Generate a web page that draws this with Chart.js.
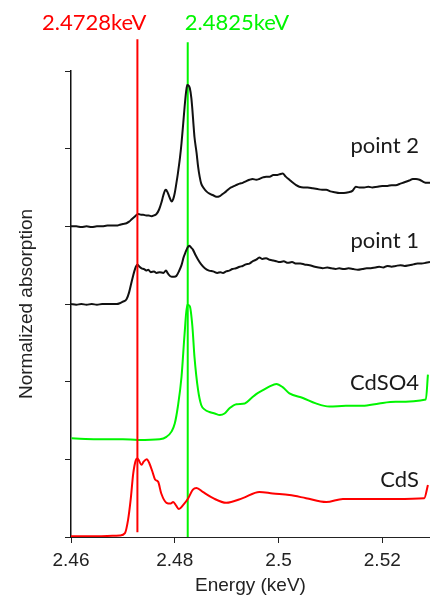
<!DOCTYPE html>
<html>
<head>
<meta charset="utf-8">
<script src="https://cdn.jsdelivr.net/npm/chart.js@4/dist/chart.umd.min.js"></script>
<style>
  body { margin: 0; background: #fff; }
  canvas { display: block; }
</style>
</head>
<body>
<canvas id="xanes" width="430" height="598"></canvas>
<script>
// axis
const energyTicks = [2.46, 2.48, 2.5, 2.52];
const tickLabels = ['2.46', '2.48', '2.5', '2.52'];

// reference edges (keV) and how far up / down the marker lines go
const markerNames = ['2.4728keV', '2.4825keV'];
const markerEnergy = [2.4728, 2.4825];
const markerTop = [6.41, 6.37];
const markerBottom = [0.06, 0];

// series names
const seriesNames = ['point 2', 'point 1', 'CdSO4', 'CdS'];

// point 2 (offset by 4)
const p2Energy = [2.4600, 2.4610, 2.4620, 2.4630, 2.4640, 2.4650, 2.4660, 2.4670, 2.4680, 2.4688,
  2.4694, 2.4700, 2.4707, 2.4712, 2.4717, 2.4722, 2.4727, 2.4730, 2.4735, 2.4739,
  2.4745, 2.4750, 2.4755, 2.4760, 2.4765, 2.4770, 2.4774, 2.4778, 2.4781, 2.4783,
  2.4786, 2.4789, 2.4792, 2.4794, 2.4797, 2.4800, 2.4803, 2.4806, 2.4810, 2.4813,
  2.4816, 2.4819, 2.4822, 2.4824, 2.4827, 2.4829, 2.4832, 2.4834, 2.4836, 2.4838,
  2.4842, 2.4845, 2.4848, 2.4851, 2.4856, 2.4861, 2.4867, 2.4874, 2.4880, 2.4887,
  2.4893, 2.4899, 2.4906, 2.4912, 2.4918, 2.4925, 2.4931, 2.4937, 2.4944, 2.4950,
  2.4957, 2.4963, 2.4970, 2.4976, 2.4983, 2.4990, 2.4996, 2.5002, 2.5008, 2.5014,
  2.5021, 2.5028, 2.5034, 2.5040, 2.5048, 2.5056, 2.5066, 2.5075, 2.5084, 2.5092,
  2.5100, 2.5108, 2.5117, 2.5126, 2.5135, 2.5143, 2.5149, 2.5156, 2.5165, 2.5173,
  2.5181, 2.5190, 2.5200, 2.5210, 2.5218, 2.5226, 2.5235, 2.5244, 2.5252, 2.5259,
  2.5265, 2.5272, 2.5280, 2.5286, 2.5292];
const p2Abs = [4.00, 4.00, 3.99, 4.00, 3.99, 4.00, 4.00, 4.01, 4.01, 4.01,
  4.02, 4.03, 4.04, 4.06, 4.09, 4.12, 4.15, 4.16, 4.15, 4.15,
  4.14, 4.14, 4.13, 4.14, 4.16, 4.22, 4.30, 4.40, 4.46, 4.47,
  4.44, 4.39, 4.34, 4.32, 4.35, 4.43, 4.55, 4.68, 4.88, 5.07,
  5.30, 5.54, 5.74, 5.82, 5.81, 5.78, 5.65, 5.50, 5.32, 5.15,
  4.95, 4.77, 4.64, 4.55, 4.49, 4.45, 4.42, 4.40, 4.38, 4.39,
  4.42, 4.45, 4.49, 4.51, 4.53, 4.55, 4.56, 4.58, 4.60, 4.61,
  4.60, 4.61, 4.63, 4.64, 4.64, 4.66, 4.66, 4.67, 4.68, 4.64,
  4.60, 4.56, 4.53, 4.51, 4.50, 4.50, 4.49, 4.48, 4.47, 4.47,
  4.45, 4.44, 4.43, 4.43, 4.44, 4.46, 4.51, 4.50, 4.50, 4.51,
  4.50, 4.51, 4.52, 4.52, 4.53, 4.53, 4.55, 4.57, 4.59, 4.61,
  4.61, 4.60, 4.57, 4.56, 4.56];

// point 1 (offset by 3)
const p1Energy = [2.4600, 2.4610, 2.4620, 2.4630, 2.4640, 2.4650, 2.4660, 2.4670, 2.4680, 2.4688,
  2.4694, 2.4700, 2.4707, 2.4712, 2.4717, 2.4722, 2.4725, 2.4728, 2.4732, 2.4736,
  2.4741, 2.4745, 2.4749, 2.4754, 2.4760, 2.4765, 2.4771, 2.4778, 2.4783, 2.4787,
  2.4794, 2.4799, 2.4803, 2.4808, 2.4813, 2.4817, 2.4821, 2.4825, 2.4828, 2.4831,
  2.4835, 2.4840, 2.4845, 2.4851, 2.4858, 2.4866, 2.4874, 2.4882, 2.4888, 2.4893,
  2.4899, 2.4905, 2.4911, 2.4918, 2.4925, 2.4931, 2.4937, 2.4944, 2.4950, 2.4957,
  2.4963, 2.4969, 2.4976, 2.4983, 2.4990, 2.4996, 2.5002, 2.5010, 2.5018, 2.5026,
  2.5034, 2.5042, 2.5050, 2.5060, 2.5070, 2.5078, 2.5085, 2.5094, 2.5102, 2.5110,
  2.5117, 2.5126, 2.5135, 2.5144, 2.5153, 2.5162, 2.5170, 2.5178, 2.5186, 2.5194,
  2.5202, 2.5210, 2.5218, 2.5226, 2.5235, 2.5243, 2.5252, 2.5260, 2.5268, 2.5276,
  2.5284, 2.5292];
const p1Abs = [3.00, 2.99, 3.00, 2.99, 3.00, 2.99, 3.00, 3.00, 3.00, 3.00,
  3.01, 3.03, 3.06, 3.15, 3.29, 3.42, 3.48, 3.51, 3.48, 3.46,
  3.45, 3.43, 3.44, 3.41, 3.42, 3.40, 3.41, 3.40, 3.43, 3.39,
  3.35, 3.35, 3.36, 3.42, 3.50, 3.60, 3.67, 3.73, 3.75, 3.73,
  3.70, 3.63, 3.57, 3.51, 3.46, 3.43, 3.42, 3.40, 3.41, 3.40,
  3.42, 3.43, 3.45, 3.46, 3.48, 3.49, 3.51, 3.52, 3.55, 3.57,
  3.60, 3.58, 3.59, 3.57, 3.56, 3.55, 3.54, 3.55, 3.53, 3.54,
  3.52, 3.52, 3.51, 3.50, 3.48, 3.47, 3.46, 3.47, 3.46, 3.45,
  3.46, 3.45, 3.46, 3.45, 3.44, 3.45, 3.46, 3.46, 3.47, 3.48,
  3.47, 3.49, 3.48, 3.49, 3.50, 3.49, 3.50, 3.51, 3.52, 3.52,
  3.53, 3.54];

// CdSO4 reference (offset by ~1.25)
const so4Energy = [2.4601, 2.4650, 2.4700, 2.4729, 2.4771, 2.4784, 2.4794, 2.4800, 2.4806, 2.4813,
  2.4819, 2.4824, 2.4829, 2.4834, 2.4838, 2.4845, 2.4851, 2.4858, 2.4867, 2.4877,
  2.4887, 2.4896, 2.4906, 2.4919, 2.4935, 2.4948, 2.4957, 2.4970, 2.4983, 2.4996,
  2.5008, 2.5021, 2.5047, 2.5072, 2.5098, 2.5130, 2.5162, 2.5194, 2.5226, 2.5284,
  2.5288];
const so4Abs = [1.27, 1.26, 1.26, 1.25, 1.26, 1.29, 1.36, 1.46, 1.68, 2.06,
  2.62, 2.99, 2.97, 2.71, 2.32, 1.89, 1.70, 1.64, 1.61, 1.59,
  1.57, 1.59, 1.66, 1.71, 1.72, 1.79, 1.84, 1.89, 1.94, 1.97,
  1.93, 1.85, 1.79, 1.72, 1.68, 1.69, 1.69, 1.72, 1.74, 1.77,
  2.09];

// CdS reference
const cdsEnergy = [2.4600, 2.4650, 2.4680, 2.4694, 2.4704, 2.4710, 2.4715, 2.4720, 2.4725, 2.4728,
  2.4736, 2.4740, 2.4746, 2.4751, 2.4757, 2.4762, 2.4768, 2.4774, 2.4784, 2.4792,
  2.4797, 2.4803, 2.4808, 2.4816, 2.4826, 2.4835, 2.4842, 2.4854, 2.4874, 2.4899,
  2.4931, 2.4963, 2.4989, 2.5021, 2.5053, 2.5092, 2.5124, 2.5162, 2.5226, 2.5281,
  2.5288];
const cdsAbs = [0.01, 0.01, 0.015, 0.02, 0.05, 0.22, 0.48, 0.82, 0.99, 1.01,
  0.93, 0.97, 1.00, 0.95, 0.84, 0.74, 0.71, 0.56, 0.44, 0.43,
  0.45, 0.40, 0.36, 0.41, 0.50, 0.61, 0.63, 0.58, 0.50, 0.44,
  0.50, 0.58, 0.56, 0.54, 0.50, 0.45, 0.49, 0.49, 0.49, 0.50,
  0.67];

const RED = 'rgb(255,0,0)';
const GREEN = 'rgb(0,245,0)';
const BLACK = '#111';

function pts(xs, ys) {
  return xs.map((x, i) => ({ x: x, y: ys[i] }));
}

function curve(xs, ys, color) {
  return {
    data: pts(xs, ys),
    borderColor: color,
    borderWidth: 2,
    pointRadius: 0,
    cubicInterpolationMode: 'monotone',
    order: 1
  };
}

function marker(i, color, order) {
  return {
    data: [{ x: markerEnergy[i], y: markerBottom[i] }, { x: markerEnergy[i], y: markerTop[i] }],
    borderColor: color,
    borderWidth: 2,
    pointRadius: 0,
    clip: false,
    order: order
  };
}

// labels: marker names above plot, series names at the right
const labelPlugin = {
  id: 'labels',
  afterDraw(chart) {
    const ctx = chart.ctx;
    const xs = chart.scales.x;
    ctx.save();
    ctx.font = '22px Lato';
    ctx.textBaseline = 'alphabetic';
    ctx.fillStyle = RED;
    ctx.textAlign = 'right';
    ctx.fillText(markerNames[0], xs.getPixelForValue(markerEnergy[0]) + 9, 30);
    ctx.fillStyle = GREEN;
    ctx.textAlign = 'left';
    ctx.fillText(markerNames[1], xs.getPixelForValue(markerEnergy[1]) - 3, 30);

    ctx.fillStyle = '#1a1a1a';
    ctx.textAlign = 'right';
    const baselines = [153, 248, 390, 487];
    seriesNames.forEach((s, i) => ctx.fillText(s, 419, baselines[i]));
    ctx.restore();
  }
};

new Chart(document.getElementById('xanes'), {
  type: 'line',
  data: {
    datasets: [
      marker(0, RED, 0),
      curve(p2Energy, p2Abs, BLACK),
      curve(p1Energy, p1Abs, BLACK),
      curve(so4Energy, so4Abs, GREEN),
      curve(cdsEnergy, cdsAbs, RED),
      marker(1, GREEN, 2)
    ]
  },
  options: {
    responsive: false,
    animation: false,
    layout: { padding: { top: 71, left: 0, right: 0, bottom: 0 } },
    plugins: { legend: { display: false }, tooltip: { enabled: false } },
    scales: {
      x: {
        type: 'linear',
        min: 2.46,
        max: 2.5292,
        afterBuildTicks: (axis) => { axis.ticks = energyTicks.map(v => ({ value: v })); },
        afterFit: (axis) => { axis.height = 61; },
        ticks: {
          callback: (v, i) => tickLabels[i],
          font: { family: 'Liberation Sans', size: 19 },
          color: '#222',
          padding: 6,
          maxRotation: 0,
          autoSkip: false
        },
        grid: { drawOnChartArea: false, tickLength: 6, color: '#222' },
        border: { color: '#222', width: 1 },
        title: {
          display: true,
          text: 'Energy (keV)',
          font: { family: 'Liberation Sans', size: 19 },
          color: '#222',
          padding: { top: 0, bottom: 1 }
        }
      },
      y: {
        type: 'linear',
        min: 0,
        max: 6,
        afterFit: (axis) => { axis.width = 71; },
        ticks: { stepSize: 1, display: false },
        grid: { drawOnChartArea: false, tickLength: 6, color: '#222' },
        border: { color: '#111', width: 1.5 },
        title: {
          display: true,
          text: 'Normalized absorption',
          font: { family: 'Liberation Sans', size: 19 },
          color: '#222',
          padding: { top: 15, bottom: 0 }
        }
      }
    }
  },
  plugins: [labelPlugin]
});
</script>
</body>
</html>
